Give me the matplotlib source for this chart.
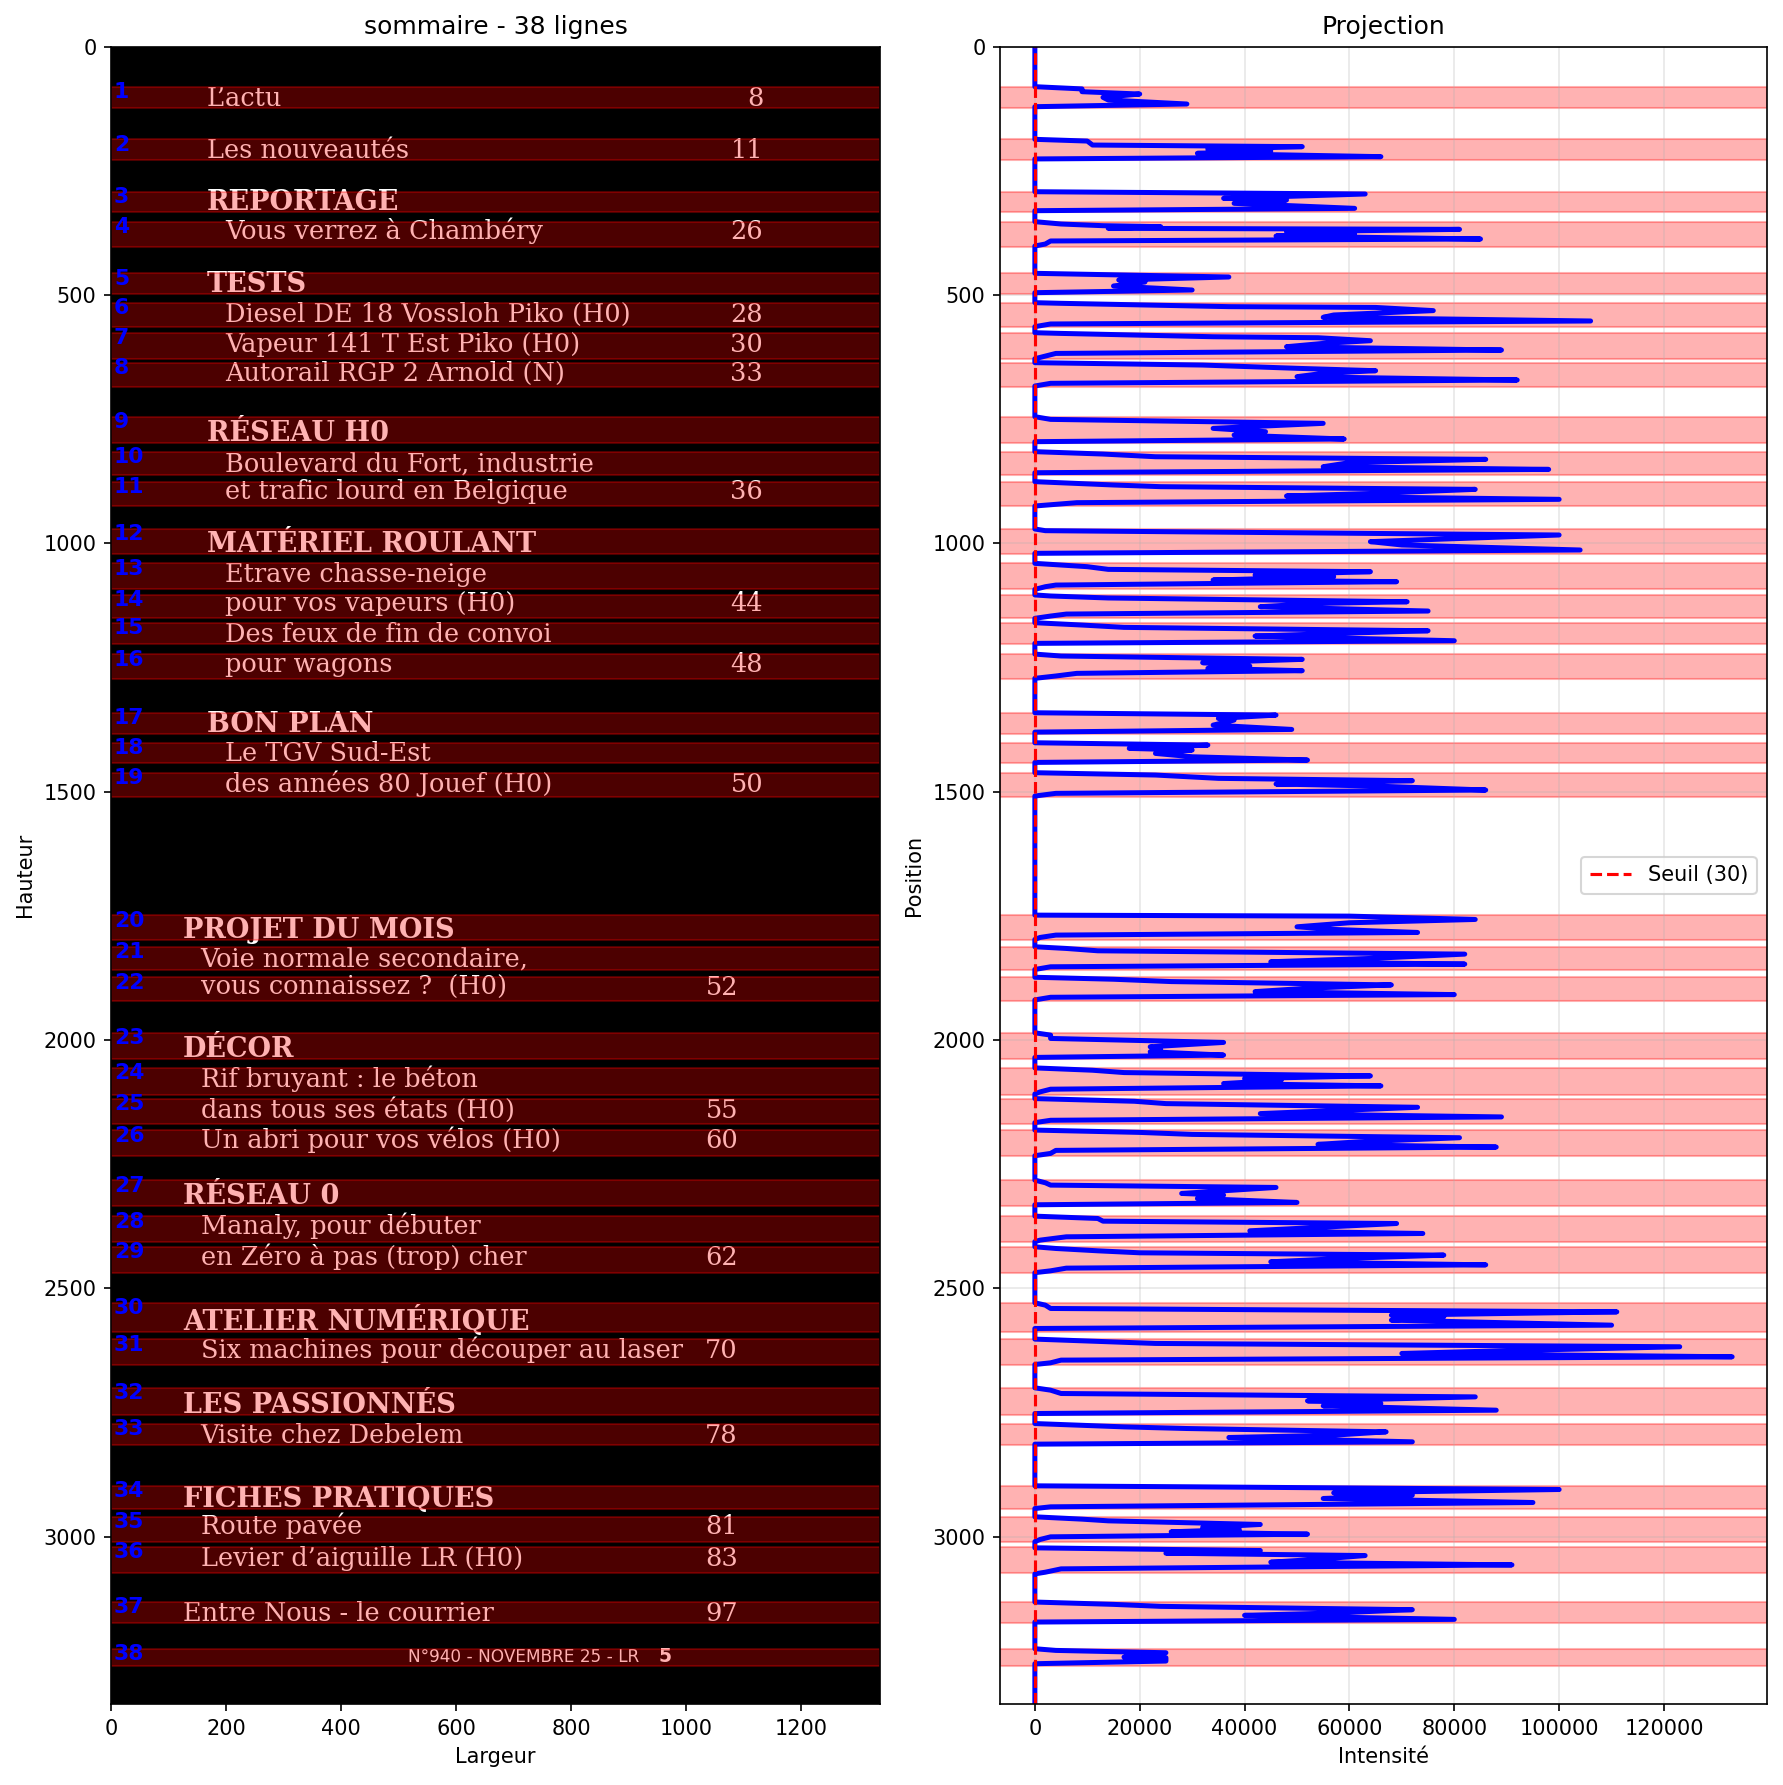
import matplotlib
matplotlib.use("Agg")
import matplotlib.pyplot as plt
from matplotlib.patches import Rectangle

# ---------------- data ----------------
IMG_W = 1337
IMG_H = 3337
threshold = 30

line_top = [80.5, 186.5, 292, 352.3, 456.3, 515.4, 575.9, 636.2, 745, 815.4,
            875.8, 971.1, 1040.3, 1103.9, 1159.8, 1223, 1341.1, 1401.5, 1461.8,
            1748.6, 1812.3, 1873.7, 1985.5, 2056.2, 2118, 2181.4, 2282.2, 2354.7,
            2416.4, 2529.2, 2602.3, 2700.4, 2772.3, 2897.7, 2960.1, 3020.5, 3131.7,
            3225.7]
line_bottom = [123.5, 228, 332, 402.6, 498, 565, 629.6, 684.5, 798.7, 862.4,
               924.8, 1022.1, 1092.7, 1151.1, 1202.8, 1273.9, 1384.1, 1443.1, 1511.4,
               1798.9, 1859.3, 1920.7, 2038.5, 2109.9, 2168.3, 2233.1, 2334.5, 2406.4,
               2468.8, 2587.6, 2654.7, 2755.5, 2815.8, 2944.7, 3010.5, 3074.2, 3174,
               3260.6]

line_text = [
    "L\u2019actu", "Les nouveaut\u00e9s", "REPORTAGE", "Vous verrez \u00e0 Chamb\u00e9ry",
    "TESTS", "Diesel DE 18 Vossloh Piko (H0)", "Vapeur 141 T Est Piko (H0)",
    "Autorail RGP 2 Arnold (N)", "R\u00c9SEAU H0", "Boulevard du Fort, industrie",
    "et trafic lourd en Belgique", "MAT\u00c9RIEL ROULANT", "Etrave chasse-neige",
    "pour vos vapeurs (H0)", "Des feux de fin de convoi", "pour wagons", "BON PLAN",
    "Le TGV Sud-Est", "des ann\u00e9es 80 Jouef (H0)", "PROJET DU MOIS",
    "Voie normale secondaire,", "vous connaissez ?  (H0)", "D\u00c9COR",
    "Rif bruyant : le b\u00e9ton", "dans tous ses \u00e9tats (H0)",
    "Un abri pour vos v\u00e9los (H0)", "R\u00c9SEAU 0", "Manaly, pour d\u00e9buter",
    "en Z\u00e9ro \u00e0 pas (trop) cher", "ATELIER NUM\u00c9RIQUE",
    "Six machines pour d\u00e9couper au laser", "LES PASSIONN\u00c9S",
    "Visite chez Debelem", "FICHES PRATIQUES", "Route pav\u00e9e",
    "Levier d\u2019aiguille LR (H0)", "Entre Nous - le courrier",
    "N\u00b0940 - NOVEMBRE 25 - LR",
]
line_page = ["8", "11", "", "26", "", "28", "30", "33", "", "", "36", "", "", "44",
             "", "48", "", "", "50", "", "", "52", "", "", "55", "60", "", "", "62",
             "", "70", "", "78", "", "81", "83", "97", "5"]
line_level = [0, 0, 0, 1, 0, 1, 1, 1, 0, 1, 1, 0, 1, 1, 1, 1, 0, 1, 1,
              0, 1, 1, 0, 1, 1, 1, 0, 1, 1, 0, 1, 0, 1, 0, 1, 1, 0, 2]

# projection profile (row position, intensity)
profile_pos = [0,
    80.5, 85, 90.6, 95.3, 102, 107.3, 115.4, 120.8,
    186.5, 190, 198, 201.3, 206.7, 210, 214.7, 221.4, 226,
    292, 296.6, 305.3, 308.7, 315.4, 325.5, 330.2,
    352.3, 357, 360.4, 362.4, 365.7, 367.8, 372.5, 375.8, 381.2, 387.2, 391.2, 397.3, 401.3,
    456.3, 463.7, 469.7, 473.8, 481.8, 489.9, 495.3,
    515.4, 516.7, 523.4, 525, 531.4, 540.2, 544.9, 552.3, 558.3, 563.7,
    575.9, 577.3, 584, 586, 592, 597.4, 604.1, 610.8, 617.6, 622.9, 628.3,
    636.2, 641, 647.6, 652.4, 657.7, 664.4, 671.1, 677.8, 683.2,
    745, 750.4, 758.4, 768.5, 775.2, 781.9, 789.9, 795.3,
    815.4, 820.2, 825.6, 830.9, 837.6, 845.7, 851.1, 857.8,
    875.8, 882.5, 885.9, 891.3, 899.3, 904.7, 911.4, 918.1, 921.5, 924.8,
    971.1, 974.5, 983.2, 996.6, 1003.3, 1013.4, 1020.1,
    1040.3, 1047, 1052.4, 1057.1, 1063.8, 1067.2, 1073.9, 1077.2, 1084, 1087.3, 1092.7,
    1103.9, 1106, 1110, 1117.6, 1120.9, 1127.6, 1136.3, 1142.4, 1146.4, 1151,
    1159.8, 1164.5, 1169.2, 1176, 1181.3, 1186.7, 1196.1, 1201.4,
    1223, 1226.9, 1233.6, 1240.3, 1247, 1251.7, 1256.4, 1261.8, 1267.1, 1271.8,
    1341.1, 1345.8, 1352.5, 1355.9, 1366, 1374.7, 1380.1,
    1401.5, 1406.2, 1412.9, 1416.3, 1423, 1429.7, 1436.4, 1441.1,
    1461.8, 1466.5, 1473.2, 1477.9, 1484.6, 1488.7, 1496.7, 1503.4, 1508.8,
    1748.6, 1750.6, 1757.3, 1764, 1772.1, 1777.4, 1783.5, 1788.8, 1793.5, 1797.5,
    1812.3, 1815.7, 1820.4, 1827.1, 1835.8, 1842.5, 1847.2, 1852.6, 1858,
    1873.7, 1877.7, 1882.4, 1889.1, 1895.8, 1902.6, 1908.6, 1914, 1919.3,
    1985.5, 1990.2, 1996.9, 2004.9, 2013.7, 2019, 2023.7, 2030.4, 2035.1,
    2056.2, 2060.9, 2065.6, 2072.3, 2077.7, 2081, 2087.7, 2092.4, 2099.1, 2104.5, 2108.5,
    2118, 2123.4, 2128.1, 2135.5, 2141.5, 2148.2, 2154.9, 2161.7, 2166.4,
    2181.4, 2186.1, 2190.1, 2196.8, 2204.9, 2210.2, 2215.6, 2222.3, 2228.4, 2233,
    2282.2, 2287.5, 2292.2, 2296.9, 2309, 2312.3, 2319.1, 2327.1, 2331.8,
    2354.7, 2359.4, 2364.8, 2369.5, 2379.5, 2384.2, 2389.6, 2396.3, 2403, 2406,
    2416.4, 2419.8, 2424.5, 2428.5, 2433.2, 2439.9, 2446.6, 2452.7, 2459.4, 2464.8, 2468.5,
    2529.2, 2533.9, 2540.6, 2547.4, 2554.1, 2557.4, 2564.1, 2574.2, 2580.9,
    2602.3, 2607.7, 2611, 2617.7, 2625.8, 2631.2, 2637.9, 2644.6, 2650, 2653.4,
    2700.4, 2705.1, 2711.8, 2718.6, 2726.6, 2732, 2736.7, 2745.4, 2752.1,
    2772.3, 2779, 2782.3, 2789, 2795.7, 2800.4, 2809.1, 2813.8,
    2897.7, 2899.7, 2905.1, 2911.8, 2916.5, 2923.2, 2931.3, 2940, 2943.4,
    2960.1, 2964.8, 2968.2, 2975.5, 2981.6, 2985.6, 2990.3, 2995, 3000.4, 3005.7, 3010,
    3022.6, 3028, 3033.4, 3038.1, 3044.8, 3051.5, 3056.9, 3064.9, 3071.6, 3075,
    3131.7, 3136.4, 3140.4, 3147.1, 3153.8, 3158.5, 3166.6, 3172,
    3225.7, 3229.1, 3233.8, 3242.5, 3243.8, 3250.5, 3255.9,
    3336]
profile_val = [0,
    0, 9000, 9000, 20000, 13000, 14000, 29000, 0,
    0, 10000, 11000, 51000, 33000, 45000, 31000, 66000, 0,
    0, 63000, 36000, 48000, 38000, 61000, 0,
    0, 5000, 13000, 24000, 14000, 81000, 48000, 61000, 46000, 85000, 3000, 2000, 0,
    0, 37000, 16000, 21000, 15000, 30000, 0,
    0, 5000, 37000, 65000, 76000, 57000, 55000, 106000, 3000, 0,
    0, 5000, 34000, 54000, 64000, 55000, 48000, 89000, 4000, 2000, 0,
    0, 32000, 50000, 65000, 55000, 50000, 92000, 3000, 0,
    0, 3000, 55000, 34000, 44000, 38000, 59000, 0,
    0, 13000, 23000, 86000, 60000, 55000, 98000, 0,
    0, 15000, 24000, 84000, 65000, 48000, 100000, 8000, 4000, 0,
    0, 2000, 100000, 64000, 70000, 104000, 0,
    0, 10000, 14000, 64000, 42000, 57000, 34000, 69000, 4000, 2000, 0,
    0, 3000, 14000, 71000, 54000, 43000, 75000, 6000, 3000, 0,
    0, 9000, 17000, 75000, 58000, 42000, 80000, 0,
    0, 5000, 51000, 32000, 41000, 33000, 51000, 8000, 4000, 0,
    0, 46000, 35000, 38000, 34000, 49000, 0,
    0, 33000, 18000, 30000, 23000, 30000, 52000, 0,
    0, 23000, 35000, 72000, 46000, 65000, 86000, 4000, 0,
    0, 60000, 84000, 60000, 50000, 57000, 73000, 4000, 1000, 0,
    0, 6000, 12000, 82000, 64000, 45000, 82000, 3000, 0,
    0, 15000, 26000, 68000, 52000, 42000, 80000, 3000, 0,
    0, 3000, 3000, 36000, 22000, 24000, 22000, 36000, 0,
    0, 11000, 17000, 64000, 40000, 47000, 36000, 66000, 3000, 1000, 0,
    0, 19000, 25000, 73000, 59000, 43000, 89000, 3000, 0,
    0, 20000, 30000, 81000, 62000, 54000, 88000, 4000, 3000, 0,
    0, 2000, 3000, 46000, 28000, 36000, 31000, 50000, 0,
    0, 12000, 13000, 69000, 50000, 41000, 74000, 6000, 1000, 0,
    0, 4000, 12000, 20000, 78000, 59000, 45000, 86000, 6000, 3000, 0,
    0, 2000, 3000, 111000, 68000, 78000, 68000, 110000, 0,
    0, 14000, 23000, 123000, 89000, 70000, 133000, 5000, 3000, 0,
    0, 3000, 5000, 84000, 52000, 66000, 55000, 88000, 0,
    0, 17000, 29000, 67000, 57000, 37000, 72000, 0,
    0, 30000, 100000, 57000, 72000, 55000, 95000, 3000, 0,
    0, 9000, 14000, 43000, 32000, 39000, 26000, 52000, 3000, 1000, 0,
    0, 43000, 25000, 63000, 55000, 45000, 91000, 5000, 2000, 0,
    0, 15000, 24000, 72000, 57000, 40000, 80000, 0,
    0, 4000, 25000, 17000, 25000, 25000, 0,
    0]

# ---------------- figure ----------------
W_PX, H_PX, DPI = 1783, 1785, 150
fig = plt.figure(figsize=(W_PX / DPI, H_PX / DPI), dpi=DPI)
ax_bottom = 1 - 1704 / H_PX
ax_height = (1704 - 46.7) / H_PX
ax1 = fig.add_axes([111 / W_PX, ax_bottom, (880 - 111) / W_PX, ax_height])
ax2 = fig.add_axes([1000 / W_PX, ax_bottom, (1767 - 1000) / W_PX, ax_height])

# ---- left: page with detected lines ----
ax1.set_facecolor("black")
ax1.set_xlim(0, IMG_W)
ax1.set_ylim(IMG_H, 0)

n_first = 19  # first column block layout
for i, (txt, top, bot) in enumerate(zip(line_text, line_top, line_bottom)):
    page = line_page[i]
    lvl = line_level[i]
    if any(c in txt for c in "gjpqy"):
        desc = 15
    elif "(" in txt:
        desc = 11
    elif "," in txt:
        desc = 7
    else:
        desc = 4
    base = bot - desc
    if lvl == 2:
        ax1.text(516, bot - 9, txt, color="white", fontsize=8.1,
                 family="DejaVu Sans", zorder=1)
        ax1.text(975, bot - 9, page, color="white", fontsize=9,
                 fontweight="bold", family="DejaVu Sans", ha="right", zorder=1)
    else:
        if i < n_first:
            x0 = 167 if lvl == 0 else 198
            xr = 1134
        else:
            x0 = 125 if lvl == 0 else 156
            xr = 1090
        bold = txt.isupper()
        ax1.text(x0, base, txt, color="white", fontsize=13 if bold else 12.3,
                 fontweight="bold" if bold else "normal",
                 family="DejaVu Serif", zorder=1)
        if page:
            ax1.text(xr, base, page, color="white", fontsize=12.3,
                     family="DejaVu Serif", ha="right", zorder=1)
    ax1.add_patch(Rectangle((0, top), IMG_W, bot - top, facecolor="red",
                            edgecolor="red", alpha=0.3, lw=1, zorder=2))
    ax1.text(5, top + 23, str(i + 1), color="blue", fontsize=10.5,
             fontweight="bold", zorder=3)

ax1.set_title(f"sommaire - {len(line_text)} lignes", fontsize=12)
ax1.set_xlabel("Largeur")
ax1.set_ylabel("Hauteur")

# ---- right: projection profile ----
for top, bot in zip(line_top, line_bottom):
    ax2.axhspan(top, bot, color="red", alpha=0.3, lw=1)
ax2.plot(profile_val, profile_pos, color="blue", lw=2.4)
ax2.axvline(threshold, color="red", ls="--", lw=1.5, label=f"Seuil ({threshold})")
ax2.set_ylim(IMG_H, 0)
ax2.grid(True, alpha=0.3)
ax2.legend(loc="center right")
ax2.set_title("Projection", fontsize=12)
ax2.set_xlabel("Intensit\u00e9")
ax2.set_ylabel("Position")

fig.savefig("out.png", dpi=DPI)
